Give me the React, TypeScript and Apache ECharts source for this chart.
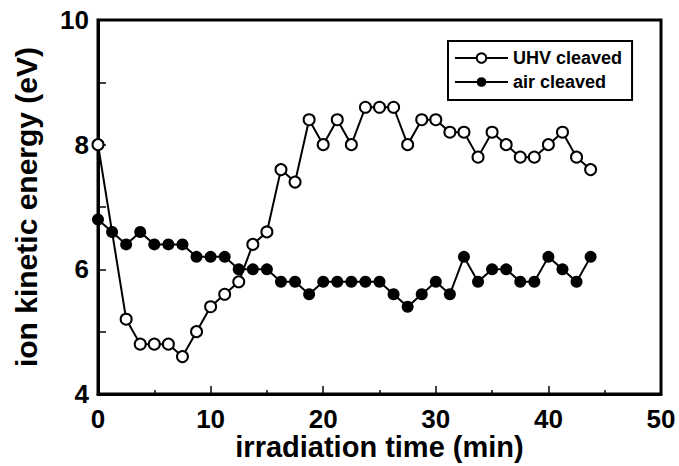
import React, { useEffect, useRef } from "react";
import * as echarts from "echarts";

const uhvTime = [0, 2.5, 3.75, 5, 6.25, 7.5, 8.75, 10, 11.25, 12.5, 13.75, 15, 16.25, 17.5, 18.75, 20, 21.25, 22.5, 23.75, 25, 26.25, 27.5, 28.75, 30, 31.25, 32.5, 33.75, 35, 36.25, 37.5, 38.75, 40, 41.25, 42.5, 43.75];
const uhvEnergy = [8.0, 5.2, 4.8, 4.8, 4.8, 4.6, 5.0, 5.4, 5.6, 5.8, 6.4, 6.6, 7.6, 7.4, 8.4, 8.0, 8.4, 8.0, 8.6, 8.6, 8.6, 8.0, 8.4, 8.4, 8.2, 8.2, 7.8, 8.2, 8.0, 7.8, 7.8, 8.0, 8.2, 7.8, 7.6];

const airTime = [0, 1.25, 2.5, 3.75, 5, 6.25, 7.5, 8.75, 10, 11.25, 12.5, 13.75, 15, 16.25, 17.5, 18.75, 20, 21.25, 22.5, 23.75, 25, 26.25, 27.5, 28.75, 30, 31.25, 32.5, 33.75, 35, 36.25, 37.5, 38.75, 40, 41.25, 42.5, 43.75];
const airEnergy = [6.8, 6.6, 6.4, 6.6, 6.4, 6.4, 6.4, 6.2, 6.2, 6.2, 6.0, 6.0, 6.0, 5.8, 5.8, 5.6, 5.8, 5.8, 5.8, 5.8, 5.8, 5.6, 5.4, 5.6, 5.8, 5.6, 6.2, 5.8, 6.0, 6.0, 5.8, 5.8, 6.2, 6.0, 5.8, 6.2];

const seriesNames = ["UHV cleaved", "air cleaved"];
const xTitle = "irradiation time (min)";
const yTitle = "ion kinetic energy (eV)";

const FONT = "'Liberation Sans', Arial, Helvetica, sans-serif";

export default function App() {
  const ref = useRef<HTMLDivElement>(null);
  useEffect(() => {
    if (!ref.current) return;
    const chart = echarts.init(ref.current, null, { renderer: "svg" });
    const pair = (xs: number[], ys: number[]) => xs.map((x, i) => [x, ys[i]]);
    chart.setOption({
      animation: false,
      backgroundColor: "#fff",
      grid: {
        left: 98,
        right: 18,
        top: 20,
        bottom: 72,
        containLabel: false,
        outerBoundsMode: "none",
        show: true,
        borderColor: "#000",
        borderWidth: 3,
        backgroundColor: "transparent",
      },
      legend: {
        orient: "vertical",
        left: 448,
        top: 41,
        data: seriesNames,
        borderColor: "#000",
        borderWidth: 2,
        padding: [8, 10, 9, 6],
        itemGap: 6,
        itemWidth: 53,
        itemHeight: 12,
        textStyle: { fontFamily: FONT, fontWeight: "bold", fontSize: 18, color: "#000" },
      },
      xAxis: {
        type: "value",
        min: 0,
        max: 50,
        interval: 10,
        name: xTitle,
        nameLocation: "middle",
        nameGap: 40,
        nameMoveOverlap: false,
        nameTextStyle: { fontFamily: FONT, fontWeight: "bold", fontSize: 29, lineHeight: 26, color: "#000" },
        axisLine: { show: true, lineStyle: { color: "#000", width: 3 } },
        axisTick: { show: true, inside: true, length: 8, lineStyle: { color: "#000", width: 1.5 } },
        minorTick: { show: true, splitNumber: 2, length: 4, lineStyle: { color: "#000", width: 1.5 } },
        splitLine: { show: false },
        axisLabel: { fontFamily: FONT, fontWeight: "bold", fontSize: 26, lineHeight: 20, color: "#000", margin: 15 },
      },
      yAxis: {
        type: "value",
        min: 4,
        max: 10,
        interval: 1,
        name: yTitle,
        nameLocation: "middle",
        nameGap: 57,
        nameMoveOverlap: false,
        nameTextStyle: { fontFamily: FONT, fontWeight: "bold", fontSize: 30, color: "#000" },
        axisLine: { show: true, lineStyle: { color: "#000", width: 3 } },
        axisTick: { show: true, inside: true, length: 8, lineStyle: { color: "#000", width: 1.5 } },
        splitLine: { show: false },
        axisLabel: {
          fontFamily: FONT,
          fontWeight: "bold",
          fontSize: 26,
          color: "#000",
          margin: 9,
          formatter: (v: number) => (v % 2 === 0 ? String(v) : ""),
        },
      },
      series: [
        {
          name: seriesNames[1],
          type: "line",
          data: pair(airTime, airEnergy),
          symbol: "circle",
          symbolSize: 12,
          lineStyle: { color: "#000", width: 2 },
          itemStyle: { color: "#000" },
          z: 2,
        },
        {
          name: seriesNames[0],
          type: "line",
          data: pair(uhvTime, uhvEnergy),
          symbol: "emptyCircle",
          symbolSize: 11,
          lineStyle: { color: "#000", width: 2 },
          itemStyle: { color: "#000", borderColor: "#000", borderWidth: 2 },
          z: 3,
        },
      ],
    });
    return () => chart.dispose();
  }, []);
  return <div ref={ref} style={{ width: 679, height: 466, position: "absolute", left: 0, top: 0 }} />;
}
